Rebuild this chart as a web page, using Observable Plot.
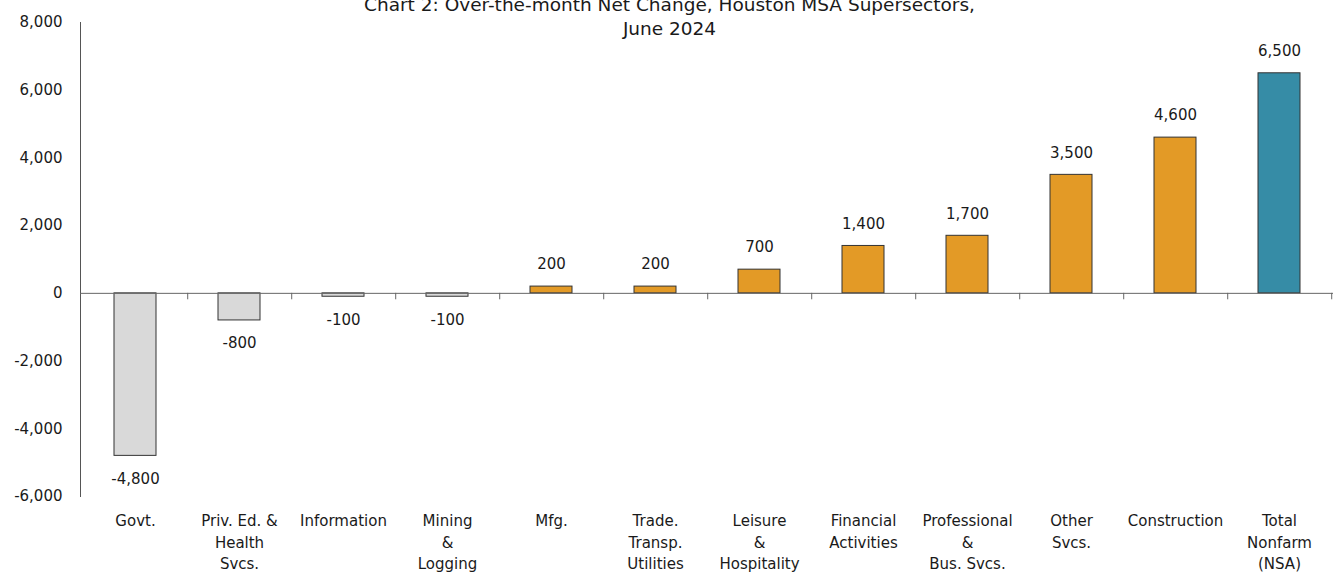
<!DOCTYPE html>
<html>
<head>
<meta charset="utf-8">
<script src="https://cdn.jsdelivr.net/npm/d3@7"></script>
<script src="https://cdn.jsdelivr.net/npm/@observablehq/plot@0.6"></script>
<style>
  html, body { margin: 0; padding: 0; background: #fff; }
  #chart svg { display: block; }
</style>
</head>
<body>
<div id="chart"></div>
<script>
const categories = [
  "Govt.",
  "Priv. Ed. &\nHealth\nSvcs.",
  "Information",
  "Mining\n&\nLogging",
  "Mfg.",
  "Trade.\nTransp.\nUtilities",
  "Leisure\n&\nHospitality",
  "Financial\nActivities",
  "Professional\n&\nBus. Svcs.",
  "Other\nSvcs.",
  "Construction",
  "Total\nNonfarm\n(NSA)"
];
const values = [-4800, -800, -100, -100, 200, 200, 700, 1400, 1700, 3500, 4600, 6500];
const groups = ["loss", "loss", "loss", "loss", "gain", "gain", "gain", "gain", "gain", "gain", "gain", "total"];
const yTicks = [-6000, -4000, -2000, 0, 2000, 4000, 6000, 8000];
const titleText = "Chart 2: Over-the-month Net Change, Houston MSA Supersectors,\nJune 2024";

const data = categories.map((c, i) => ({category: c, value: values[i], group: groups[i]}));

const W = 1338, H = 573;
const mL = 80, mR = 5, mT = 22, mB = 77;
const step = (W - mL - mR) / categories.length;
const fmt = d => d.toLocaleString("en-US");
const font = "'DejaVu Sans', sans-serif";

const chart = Plot.plot({
  width: W,
  height: H,
  marginLeft: mL,
  marginRight: mR,
  marginTop: mT,
  marginBottom: mB,
  style: {fontFamily: font, fontSize: "15px", color: "#1a1a1a", background: "#fff", overflow: "visible"},
  x: {domain: categories, paddingInner: 0.6, paddingOuter: 0.3},
  y: {domain: [-6000, 8000]},
  color: {domain: ["loss", "gain", "total"], range: ["#d9d9d9", "#e39a26", "#368ca6"]},
  marks: [
    Plot.axisY({ticks: yTicks, tickFormat: fmt, tickSize: 0, tickPadding: 18, label: null, fontSize: 15}),
    Plot.axisX({tickSize: 0, tickPadding: 14, label: null, fontSize: 15, lineHeight: 1.45}),
    Plot.frame({anchor: "left", stroke: "#555"}),
    Plot.barY(data, {x: "category", y: "value", fill: "group", stroke: "#333", strokeWidth: 1}),
    Plot.ruleY([0], {stroke: "#666", strokeWidth: 1}),
    Plot.ruleX(categories, {x: d => d, dx: step / 2, y1: 0, y2: -190, stroke: "#666"}),
    Plot.text(data.filter(d => d.value >= 0), {x: "category", y: "value", text: d => fmt(d.value), dy: -22, fontSize: 15, fill: "#1a1a1a"}),
    Plot.text(data.filter(d => d.value < 0), {x: "category", y: "value", text: d => fmt(d.value), dy: 23, fontSize: 15, fill: "#1a1a1a"}),
    Plot.text([titleText], {frameAnchor: "top", text: d => d, dx: W / 2 - (mL + (W - mL - mR) / 2), dy: -7, lineAnchor: "middle", lineHeight: 1.3, fontSize: 18.5, fill: "#1a1a1a"})
  ]
});
document.getElementById("chart").appendChild(chart);
</script>
</body>
</html>
